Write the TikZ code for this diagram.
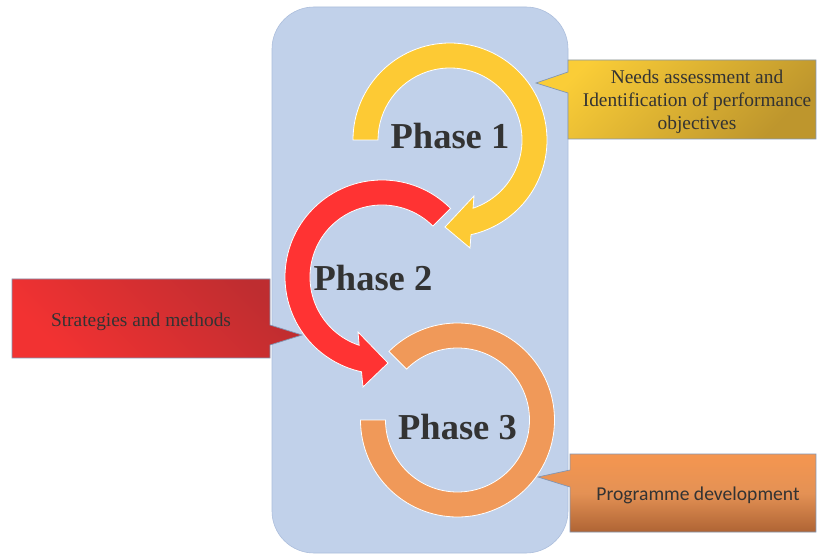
\documentclass[tikz,border=0pt]{standalone}
\usepackage{fontspec}
\setmainfont{Liberation Serif}
\newfontfamily\timesfont{Liberation Serif}
\newfontfamily\carlito{Carlito}
\usetikzlibrary{calc}
\definecolor{boxblue}{RGB}{193,209,234}
\definecolor{boxedge}{RGB}{172,190,220}
\definecolor{yellowarc}{RGB}{253,202,52}
\definecolor{redarc}{RGB}{255,51,51}
\definecolor{orangearc}{RGB}{240,153,89}
\definecolor{txt}{RGB}{51,51,51}
\definecolor{calloutline}{RGB}{130,150,180}
\definecolor{ylight}{RGB}{250,205,55}
\definecolor{ydark}{RGB}{190,150,45}
\definecolor{rlight}{RGB}{242,50,50}
\definecolor{rdark}{RGB}{190,45,48}
\definecolor{olight}{RGB}{245,150,80}
\definecolor{odark}{RGB}{175,100,52}
\begin{document}
\begin{tikzpicture}[x=1pt,y=1pt,
  ring/.style={draw=white, line width=0.8pt},
  phase/.style={font=\timesfont\bfseries\fontsize{36.5}{40}\selectfont, text=txt, inner sep=0pt},
  callout/.style={draw=calloutline, line width=0.7pt},
  ctext/.style={font=\timesfont\fontsize{19.4}{23}\selectfont, text=txt, align=center, inner sep=0pt}]
\useasboundingbox (0,0) rectangle (817,555);
\fill[white] (0,0) rectangle (817,555);
% background panel
\draw[fill=boxblue, draw=boxedge, line width=0.6pt, rounded corners=42pt] (272,2) rectangle (568,548);
% callouts
\draw[callout, top color=ylight, bottom color=ydark, shading angle=45]
  (568,416) -- (568,462) -- (536,472) -- (568,483) -- (568,495) -- (816,495) -- (816,416) -- cycle;
\draw[callout, top color=rdark, bottom color=rlight, shading angle=-45]
  (12,197) -- (12,276) -- (270,276) -- (270,230) -- (302,220) -- (270,210) -- (270,197) -- cycle;
\draw[callout, top color=olight, bottom color=odark, middle color=orangearc!95!black]
  (570,23) -- (570,68) -- (538,78) -- (570,85) -- (570,101) -- (816,101) -- (816,23) -- cycle;
% rings
\coordinate (c1) at (450,415);
\coordinate (c2) at (382,278);
\coordinate (c3) at (457.5,135);
\draw[ring, fill=yellowarc] ($(c1)+(180:97)$) arc[start angle=180, end angle=-77.5, radius=97]
  -- (470,307) -- (445,328) -- (474,359) -- ($(c1)+(-71.3:72)$)
  arc[start angle=-71.3, end angle=180, radius=72] -- cycle;
\draw[ring, fill=redarc] ($(c2)+(45:97)$) arc[start angle=45, end angle=257.8, radius=97]
  -- (363,168) -- (388,192) -- (358,223) -- ($(c2)+(251.5:72)$)
  arc[start angle=251.5, end angle=45, radius=72] -- cycle;
\draw[ring, fill=orangearc] ($(c3)+(-180:97)$) arc[start angle=-180, end angle=135, radius=97]
  -- ($(c3)+(135:72)$) arc[start angle=135, end angle=-180, radius=72] -- cycle;
% labels
\node[phase] (p1) at (450,419) {Phase 1};
\node[phase] (p2) at (373,277) {Phase 2};
\node[phase] (p3) at (457.5,127.5) {Phase 3};
\node[ctext] (needs) at (697,453.5) {Needs assessment and\\Identification of performance\\objectives};
\node[ctext, anchor=base] (strat) at (141,229) {Strategies and methods};
\node[ctext, anchor=base, font=\carlito\fontsize{19.6}{23}\selectfont] (prog) at (698,55) {Programme development};
\end{tikzpicture}
\end{document}
